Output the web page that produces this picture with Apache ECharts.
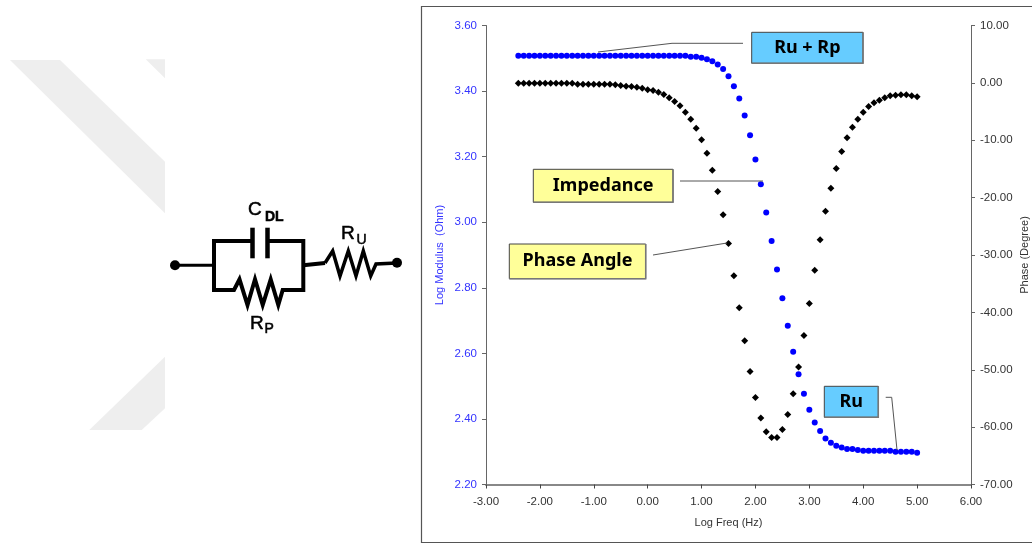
<!DOCTYPE html>
<html>
<head>
<meta charset="utf-8">
<style>html,body{margin:0;padding:0;background:#fff}#c{width:1032px;height:543px}</style>
<script src="https://cdn.jsdelivr.net/npm/echarts@6/dist/echarts.min.js"></script>
</head>
<body>
<div id="c"></div>
<script>
const logFreq = [-2.4,-2.3,-2.2,-2.1,-2.0,-1.9,-1.8,-1.7,-1.6,-1.5,-1.4,-1.3,-1.2,-1.1,-1.0,-0.9,-0.8,-0.7,-0.6,-0.5,-0.4,-0.3,-0.2,-0.1,0.0,0.1,0.2,0.3,0.4,0.5,0.6,0.7,0.8,0.9,1.0,1.1,1.2,1.3,1.4,1.5,1.6,1.7,1.8,1.9,2.0,2.1,2.2,2.3,2.4,2.5,2.6,2.7,2.8,2.9,3.0,3.1,3.2,3.3,3.4,3.5,3.6,3.7,3.8,3.9,4.0,4.1,4.2,4.3,4.4,4.5,4.6,4.7,4.8,4.9,5.0];
const logModulus = [3.508,3.508,3.508,3.508,3.508,3.508,3.508,3.508,3.508,3.508,3.508,3.508,3.508,3.508,3.508,3.508,3.508,3.508,3.508,3.508,3.508,3.508,3.508,3.508,3.508,3.508,3.508,3.508,3.508,3.508,3.508,3.508,3.5045,3.5045,3.5015,3.497,3.491,3.481,3.467,3.445,3.415,3.377,3.3255,3.265,3.191,3.116,3.03,2.943,2.856,2.768,2.684,2.605,2.536,2.477,2.428,2.389,2.363,2.34,2.327,2.318,2.313,2.308,2.308,2.305,2.303,2.303,2.303,2.303,2.303,2.303,2.3,2.3,2.3,2.3,2.297];
const phaseAngle = [-0.05,-0.05,-0.05,-0.05,-0.05,-0.05,-0.05,-0.05,-0.05,-0.05,-0.05,-0.22,-0.22,-0.22,-0.22,-0.22,-0.22,-0.22,-0.34,-0.46,-0.57,-0.63,-0.75,-0.92,-1.21,-1.33,-1.62,-2.03,-2.61,-3.25,-4.0,-5.11,-6.33,-7.9,-9.93,-12.25,-15.22,-18.93,-23.0,-28.0,-33.63,-39.2,-44.96,-50.3,-54.84,-58.4,-60.8,-61.8,-61.8,-60.4,-57.8,-54.2,-49.5,-44.03,-38.45,-32.65,-27.35,-22.37,-18.36,-14.93,-11.96,-9.57,-7.72,-6.33,-5.11,-4.12,-3.47,-3.01,-2.6,-2.25,-2.14,-2.08,-2.08,-2.25,-2.43];

const ink = '#666666';
const sans = 'Liberation Sans';
const boxFontSize = 18;

function poly(points, fill){ return {type:'polygon', silent:true, shape:{points}, style:{fill}}; }
function wire(points, w, color){ return {type:'polyline', silent:true, z:5, shape:{points}, style:{stroke:color||'#000', lineWidth:w, fill:null, lineJoin:'miter'}}; }
function dot(cx, cy, r){ return {type:'circle', silent:true, z:5, shape:{cx, cy, r}, style:{fill:'#000'}}; }
function label(x, y, text, size, weight){ return {type:'text', silent:true, z:6, x, y, style:{text, fill:'#000', stroke:'#000', lineWidth:0.5, fontFamily:sans, fontSize:size, fontWeight:weight||'normal', verticalAlign:'middle'}}; }
function box(x1, y1, x2, y2, fill, text){
  return [
    {type:'rect', silent:true, z:8, shape:{x:x1, y:y1, width:x2-x1, height:y2-y1}, style:{fill, stroke:'#444', lineWidth:1}},
    {type:'polyline', silent:true, z:8, shape:{points:[[x2,y1],[x2,y2],[x1,y2]]}, style:{stroke:'#777', lineWidth:1.5, fill:null}},
    {type:'text', silent:true, z:9, x:(x1+x2)/2, y:(y1+y2)/2, style:{text, fill:'#000', fontFamily:'Noto Sans', fontWeight:'bold', fontSize:boxFontSize, align:'center', verticalAlign:'middle'}}
  ];
}

const graphics = [
  {type:'rect', silent:true, z:0, shape:{x:421.5, y:6.5, width:620, height:536}, style:{fill:'#fff', stroke:'#555', lineWidth:1.2}},
  poly([[10,60],[60,60],[165,161.7],[165,213.3]], '#eeeeee'),
  poly([[145.7,59.3],[165,59.3],[165,78.3]], '#eeeeee'),
  poly([[165,356.7],[165,408.3],[141.7,430],[89.3,430]], '#eeeeee'),
  dot(175,265.3,5),
  dot(397,262.7,5),
  wire([[175,265.3],[213,265.3]],3),
  wire([[252.5,241],[214,241],[214,290],[234,290],[239.5,279.3],[247.5,305],[255,279.3],[262.7,305],[270.7,279.3],[278.3,305],[282.7,290],[303.3,290],[303.3,241],[267.5,241]],4),
  wire([[303.3,265.3],[325,263]],4),
  wire([[252.5,227.7],[252.5,258.3]],4.5),
  wire([[267.5,227.7],[267.5,258.3]],4.5),
  wire([[325,263],[332.7,251],[340,276],[348.3,251],[356,276],[363.3,251],[370.7,276],[376,264],[397,263]],3.5),
  label(248,209.5,'C',19), label(265,217,'DL',14,'bold'),
  label(341,233.5,'R',19), label(356.5,240,'U',14),
  label(250,324,'R',19), label(264.5,329,'P',14),
  wire([[598,52],[672,43.3],[743,43.3]],1,'#555'),
  wire([[680,181],[763,181]],1,'#555'),
  wire([[653,255],[727,243]],1,'#555'),
  wire([[885.7,397.3],[891.7,397.3],[897,450]],1,'#555'),
  ...box(751.7,32.3,863,63.3,'#66ccff','Ru + Rp'),
  ...box(533.3,169.3,673,202.3,'#ffff99','Impedance'),
  ...box(509.3,244,645.7,278.7,'#ffff99','Phase Angle'),
  ...box(824.3,386.3,878.3,417.3,'#66ccff','Ru')
];

const chart = echarts.init(document.getElementById('c'), null, {renderer:'canvas'});
chart.setOption({
  animation:false,
  backgroundColor:'#fff',
  textStyle:{fontFamily:sans},
  grid:{left:486, top:25.5, width:485, height:459, show:true, backgroundColor:'transparent', borderColor:'#666', borderWidth:1},
  xAxis:{
    type:'value', min:-3, max:6, interval:1,
    name:'Log Freq (Hz)', nameLocation:'middle', nameGap:33,
    nameTextStyle:{color:'#333', fontSize:11, fontFamily:sans},
    axisLine:{show:true, onZero:false, lineStyle:{color:'#888', width:2}},
    axisTick:{show:true, length:4, lineStyle:{color:'#444', width:1}},
    splitLine:{show:false},
    axisLabel:{color:'#333', fontSize:11.5, fontFamily:sans, margin:11, formatter:v=>v.toFixed(2)}
  },
  yAxis:[{
    type:'value', min:2.2, max:3.6, interval:0.2, position:'left',
    name:'Log Modulus  (Ohm)', nameLocation:'middle', nameGap:41, nameRotate:90,
    nameTextStyle:{color:'#3333ff', fontSize:11, fontFamily:sans},
    axisLine:{show:true, onZero:false, lineStyle:{color:ink, width:1}},
    axisTick:{show:true, length:4, lineStyle:{color:ink, width:1}},
    splitLine:{show:false},
    axisLabel:{color:'#3333ff', fontSize:11.5, fontFamily:sans, margin:9, formatter:v=>v.toFixed(2)}
  },{
    type:'value', min:-70, max:10, interval:10, position:'right',
    name:'Phase (Degree)', nameLocation:'middle', nameGap:48, nameRotate:90,
    nameTextStyle:{color:'#333', fontSize:11, fontFamily:sans},
    axisLine:{show:true, onZero:false, lineStyle:{color:ink, width:1}},
    axisTick:{show:true, length:4, lineStyle:{color:ink, width:1}},
    splitLine:{show:false},
    axisLabel:{color:'#333', fontSize:11.5, fontFamily:sans, margin:9, formatter:v=>v.toFixed(2)}
  }],
  series:[
    {name:'Phase Angle', type:'scatter', yAxisIndex:1, symbol:'diamond', symbolSize:7, itemStyle:{color:'#000', opacity:1}, data:logFreq.map((x,i)=>[x,phaseAngle[i]]), silent:true, z:3},
    {name:'Impedance', type:'scatter', yAxisIndex:0, symbol:'circle', symbolSize:6, itemStyle:{color:'#0000ff', opacity:1}, data:logFreq.map((x,i)=>[x,logModulus[i]]), silent:true, z:3}
  ],
  graphic:{elements:graphics}
});
</script>
</body>
</html>
